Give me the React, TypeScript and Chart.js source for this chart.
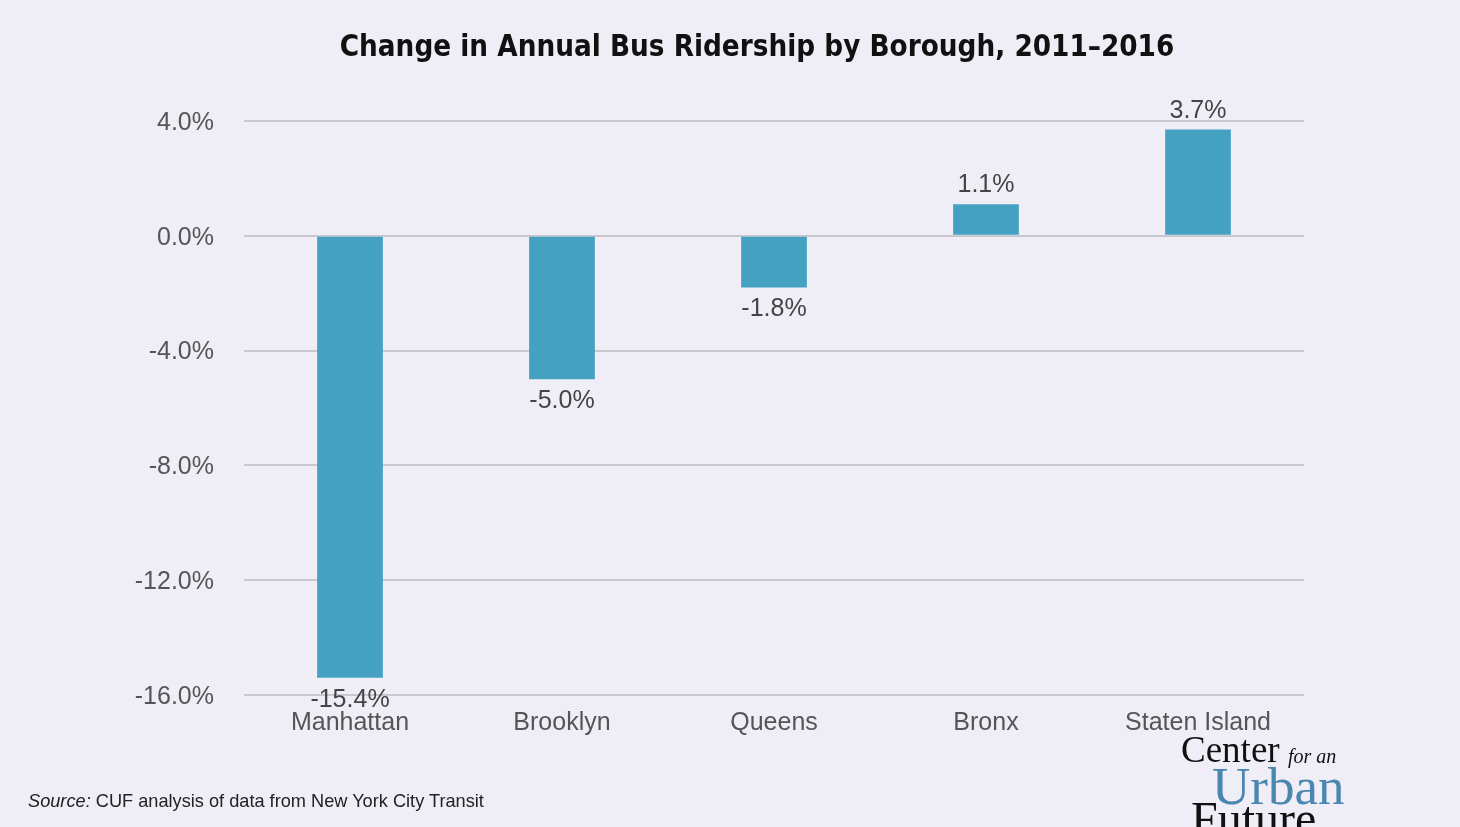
import React, { useEffect, useRef } from "react";
import { Chart, registerables } from "chart.js";

Chart.register(...registerables);

const categories = ["Manhattan", "Brooklyn", "Queens", "Bronx", "Staten Island"];
const changes = [-15.4, -5.0, -1.8, 1.1, 3.7];
const yTicks = [4, 0, -4, -8, -12, -16];
const titleText = "Change in Annual Bus Ridership by Borough, 2011\u20132016";

const BG = "#efeef6";
const BAR = "#45a1c1";
const FONT = "'Liberation Sans', Arial, sans-serif";
const SERIF = "'Liberation Serif', 'DejaVu Serif', serif";

const valueLabels = {
  id: "valueLabels",
  afterDatasetsDraw(chart: any) {
    const ctx = chart.ctx;
    const meta = chart.getDatasetMeta(0);
    ctx.save();
    ctx.font = "25px " + FONT;
    ctx.fillStyle = "#444";
    ctx.textAlign = "center";
    ctx.textBaseline = "middle";
    meta.data.forEach((bar: any, i: number) => {
      const v = changes[i];
      const y = v >= 0 ? bar.y - 19 : bar.y + 22;
      ctx.fillText(v.toFixed(1) + "%", bar.x, y);
    });
    ctx.restore();
  },
};

const logoWord = (text: string, left: number, top: number, size: number, color: string, italic = false) => (
  <div
    style={{
      position: "absolute",
      left,
      top,
      fontFamily: SERIF,
      fontSize: size,
      lineHeight: 1,
      color,
      fontStyle: italic ? "italic" : "normal",
      whiteSpace: "nowrap",
    }}
  >
    {text}
  </div>
);

export default function App() {
  const ref = useRef<HTMLCanvasElement>(null);
  useEffect(() => {
    const chart = new Chart(ref.current!, {
      type: "bar",
      data: {
        labels: categories,
        datasets: [
          {
            data: changes,
            backgroundColor: BAR,
            barPercentage: 0.62,
            categoryPercentage: 0.5,
          },
        ],
      },
      options: {
        animation: false,
        responsive: false,
        layout: { padding: { top: 121, right: 156, bottom: 0, left: 0 } },
        plugins: { legend: { display: false }, tooltip: { enabled: false }, title: { display: false } },
        scales: {
          x: {
            afterFit: (s: any) => {
              s.height = 132;
            },
            grid: { display: false },
            border: { display: false },
            ticks: {
              padding: 5,
              color: "#555",
              font: { size: 25, family: FONT },
              maxRotation: 0,
            },
          },
          y: {
            min: -16,
            max: 4,
            afterFit: (s: any) => {
              s.width = 244;
            },
            afterBuildTicks: (s: any) => {
              s.ticks = yTicks.map((v) => ({ value: v }));
            },
            grid: { color: "#c9c8cf", lineWidth: 2, drawTicks: false },
            border: { display: false },
            ticks: {
              padding: 30,
              labelOffset: 2,
              color: "#555",
              font: { size: 25, family: FONT },
              callback: (v: any) => Number(v).toFixed(1) + "%",
            },
          },
        },
      },
      plugins: [valueLabels],
    });
    return () => chart.destroy();
  }, []);

  return (
    <div style={{ position: "fixed", left: 0, top: 0, width: 1460, height: 827, background: BG, overflow: "hidden" }}>
      <canvas ref={ref} width={1460} height={827} style={{ position: "absolute", left: 0, top: 0, width: 1460, height: 827 }} />
      <div
        style={{
          position: "absolute",
          left: 0,
          top: 28,
          width: 1514,
          textAlign: "center",
          fontFamily: "'DejaVu Sans Condensed', 'DejaVu Sans', sans-serif",
          fontWeight: 700,
          fontSize: 29.3,
          color: "#111",
          lineHeight: "36px",
          whiteSpace: "nowrap",
        }}
      >
        {titleText}
      </div>
      <div
        style={{
          position: "absolute",
          left: 28,
          top: 789,
          fontFamily: FONT,
          fontSize: 18.2,
          color: "#222",
          lineHeight: "24px",
          whiteSpace: "nowrap",
        }}
      >
        <i>Source:</i> CUF analysis of data from New York City Transit
      </div>
      {logoWord("Center", 1181, 731, 37, "#111")}
      {logoWord("for an", 1288, 746, 20, "#111", true)}
      {logoWord("Urban", 1212, 760, 53, "#4a86b0")}
      {logoWord("Future", 1191, 795, 48, "#111")}
    </div>
  );
}
